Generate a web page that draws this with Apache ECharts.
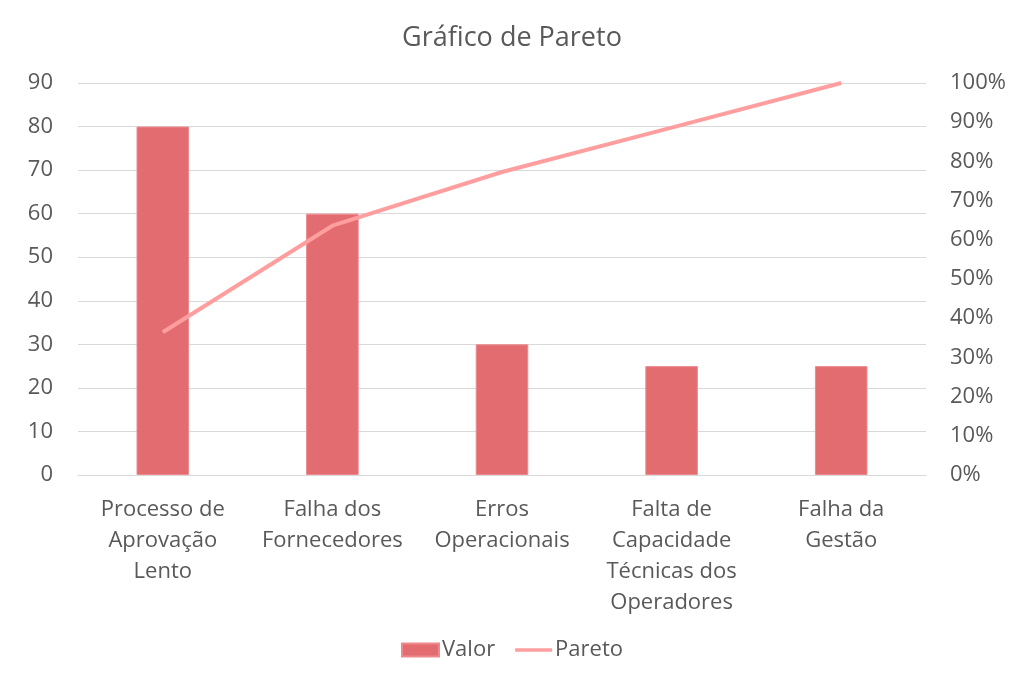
<!DOCTYPE html>
<html>
<head>
<meta charset="utf-8">
<script src="https://cdn.jsdelivr.net/npm/echarts@6/dist/echarts.min.js"></script>
<style>html,body{margin:0;padding:0;background:#fff;}#c{width:1024px;height:685px;}</style>
</head>
<body>
<div id="c"></div>
<script>
const categories = ["Processo de\nAprovação\nLento", "Falha dos\nFornecedores", "Erros\nOperacionais", "Falta de\nCapacidade\nTécnicas dos\nOperadores", "Falha da\nGestão"];
const valor = [80, 60, 30, 25, 25];
const pareto = [0.364, 0.636, 0.773, 0.886, 1.0];
const leftTicks = {min: 0, max: 90, interval: 10};
const rightTicks = {min: 0, max: 1, interval: 0.1};

const font = '"Open Sans", sans-serif';
const txt = '#595959';
const chart = echarts.init(document.getElementById('c'));
chart.setOption({
  animation: false,
  textStyle: {fontFamily: font},
  title: {text: 'Gráfico de Pareto', left: 'center', top: 20, textStyle: {fontFamily: font, fontSize: 27, fontWeight: 'normal', color: txt}},
  grid: {left: 78, right: 98, top: 83, bottom: 210, containLabel: false},
  legend: {bottom: 19, left: 'center', itemGap: 20, itemWidth: 37, itemHeight: 13,
    textStyle: {fontFamily: font, fontSize: 22, color: txt, padding: [0,0,0,-2]},
    data: [{name: 'Valor', icon: 'rect'}, {name: 'Pareto', icon: 'path://M0,0 L40,0 L40,4 L0,4 Z', itemStyle: {color: '#FF9E9E'}}]},
  xAxis: {type: 'category', data: categories,
    axisLine: {lineStyle: {color: '#d9d9d9'}}, axisTick: {show: false},
    axisLabel: {interval: 0, fontFamily: font, fontSize: 22, color: txt, lineHeight: 31, margin: 19}},
  yAxis: [
    {type: 'value', min: leftTicks.min, max: leftTicks.max, interval: leftTicks.interval,
      axisLine: {show: false}, axisTick: {show: false},
      splitLine: {lineStyle: {color: '#d9d9d9'}},
      axisLabel: {fontFamily: font, fontSize: 22, color: txt, margin: 25}},
    {type: 'value', min: rightTicks.min, max: rightTicks.max, interval: rightTicks.interval,
      axisLine: {show: false}, axisTick: {show: false}, splitLine: {show: false},
      axisLabel: {fontFamily: font, fontSize: 22, color: txt, margin: 24,
        formatter: v => Math.round(v * 100) + '%'}}
  ],
  series: [
    {name: 'Valor', type: 'bar', data: valor, barWidth: '31%',
      itemStyle: {color: '#E36C71', borderColor: '#EE8A8E', borderWidth: 1}},
    {name: 'Pareto', type: 'line', yAxisIndex: 1, data: pareto, symbol: 'none',
      lineStyle: {color: '#FF9E9E', width: 4}, itemStyle: {color: '#FF9E9E'}}
  ]
});
</script>
</body>
</html>
